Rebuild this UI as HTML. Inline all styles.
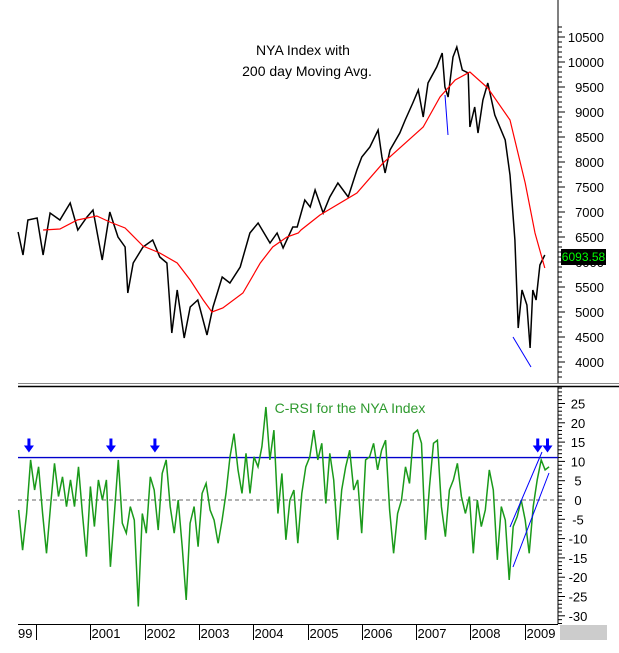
<!DOCTYPE html>
<html><head><meta charset="utf-8"><style>
html,body{margin:0;padding:0;background:#fff;}
svg{display:block;font-family:"Liberation Sans",Arial,sans-serif;}
</style></head><body>
<svg id="chart" width="619" height="653" viewBox="0 0 619 653" xmlns="http://www.w3.org/2000/svg">
<rect x="0" y="0" width="619" height="653" fill="#fff"/>
<g id="topPanel"></g>
<g id="botPanel"></g>
<text x="303" y="55" font-size="14" text-anchor="middle">NYA Index with</text>
<text x="307" y="76" font-size="14" text-anchor="middle">200 day Moving Avg.</text>
<text x="350" y="413" font-size="14" text-anchor="middle" fill="#2e9a2e">C-RSI for the NYA Index</text>
</svg>
<script>
const priceDates=[1999.67,1999.76,1999.85,2000.02,2000.13,2000.26,2000.44,2000.63,2000.77,2000.94,2001.05,2001.22,2001.36,2001.51,2001.64,2001.69,2001.79,2001.97,2002.15,2002.28,2002.41,2002.50,2002.60,2002.73,2002.84,2002.98,2003.15,2003.26,2003.43,2003.57,2003.76,2003.94,2004.09,2004.31,2004.44,2004.55,2004.73,2004.81,2004.95,2005.05,2005.14,2005.29,2005.41,2005.56,2005.75,2005.91,2006.00,2006.15,2006.30,2006.37,2006.43,2006.52,2006.70,2006.80,2006.94,2007.04,2007.13,2007.22,2007.38,2007.48,2007.53,2007.59,2007.68,2007.75,2007.85,2007.96,2007.99,2008.08,2008.14,2008.23,2008.32,2008.45,2008.64,2008.73,2008.82,2008.88,2008.95,2009.04,2009.10,2009.15,2009.21,2009.28,2009.37];
const priceValues=[6600,6140,6840,6880,6140,6980,6840,7180,6640,6900,7040,6040,7000,6500,6300,5380,5980,6300,6440,6100,5980,4580,5440,4480,5100,5240,4540,5100,5700,5580,5900,6580,6780,6380,6580,6280,6700,6700,7240,7100,7440,6980,7300,7580,7300,7840,8100,8300,8640,8100,7780,8240,8580,8840,9180,9440,8900,9580,9900,10180,9500,9300,10100,10300,9840,9780,8700,9100,8580,9240,9580,8940,8440,7740,6440,4680,5440,5140,4280,5440,5240,5940,6140];
const maDates=[2000.13,2000.44,2000.76,2001.12,2001.36,2001.64,2001.97,2002.28,2002.60,2002.84,2003.08,2003.24,2003.44,2003.81,2004.13,2004.36,2004.62,2004.83,2004.88,2005.23,2005.91,2006.39,2007.13,2007.44,2007.72,2007.99,2008.32,2008.73,2009.01,2009.19,2009.37];
const maValues=[6640,6660,6840,6920,6800,6680,6320,6180,5980,5640,5240,5000,5080,5380,5980,6300,6500,6580,6640,6940,7380,7980,8700,9300,9640,9800,9480,8840,7580,6580,5880];
const priceTicks=[4000,4500,5000,5500,6000,6500,7000,7500,8000,8500,9000,9500,10000,10500];
const rsiValues=[-2.6,-13,-3.5,10.4,2.6,8.6,-3.5,-13.8,-1.7,9.5,0.9,6,-1.7,5.2,-1.7,8.6,-3.5,-14.7,3.5,-6.9,5.2,0,5.2,-17.3,-3.5,10.4,-6,-8.6,-1.7,-5.2,-27.6,-3.5,-8.6,6,2.6,-7.8,6.9,10.4,-1.7,-8.6,0,-12.1,-25.9,-6,-1.7,-12.1,1.7,4.3,-2.6,-5.2,-11.2,-5.2,1.7,11.2,17.2,7.8,1.7,12.1,1.7,11.2,8.6,13.8,24.1,10.4,18.1,-3.5,6.9,-10.3,0,2.6,-11.2,1.7,8.6,11.2,18.1,10.4,14.7,-0.9,12.1,5.2,-10.3,2.6,8.6,12.9,2.6,5.2,-8.6,10.4,11.2,14.7,7.8,12.9,15.5,-2.6,-13.8,-3.5,0,8.6,4.3,17.2,18.1,14.7,-10.3,3.5,14.7,15.5,-1.7,-9.5,2.6,5.2,9.5,0.9,-3.5,0.9,-13.8,0,-6.9,-2.6,7.8,2.6,-15.5,-1.7,-5.2,-20.7,-6.9,-4.3,0,-5.2,-13.8,-1.7,5.2,10.4,7.8,8.6];
const rsiStart=1999.68, rsiEnd=2009.45;
const rsiTicks=[-30,-25,-20,-15,-10,-5,0,5,10,15,20,25];
const yearTicks=[2000,2001,2002,2003,2004,2005,2006,2007,2008,2009];
const yearLabels=["99","2001","2002","2003","2004","2005","2006","2007","2008","2009"];
const signalLevel=11;
const arrowDates=[1999.87,2001.38,2002.19,2009.24,2009.42];

const NS="http://www.w3.org/2000/svg";
const xS=t=>36+(t-2000)*54.3;
const yP=v=>37+(10500-v)*0.05;
const yR=v=>500-v*3.86;
function mk(tag,attrs,parent){const el=document.createElementNS(NS,tag);for(const k in attrs)el.setAttribute(k,attrs[k]);parent.appendChild(el);return el;}
const topG=document.getElementById('topPanel'), botG=document.getElementById('botPanel');

let e=mk('line',{x1:558,y1:0,x2:558,y2:383,stroke:'#000'},topG);


for(let v=3700;v<=10700;v+=100){const y=yP(v);mk('line',{x1:558,y1:y,x2:v%500===0?565:562,y2:y,stroke:'#000'},topG);}
priceTicks.forEach(v=>{const t=mk('text',{x:604,y:yP(v)+5,'font-size':13,'text-anchor':'end',fill:'#000'},topG);t.textContent=v;

});
mk('line',{x1:18,y1:383.5,x2:619,y2:383.5,stroke:'#888'},topG);
mk('line',{x1:18,y1:386.5,x2:619,y2:386.5,stroke:'#000',"stroke-width":1.5},topG);

let pts=priceDates.map((d,i)=>xS(d).toFixed(1)+','+yP(priceValues[i]).toFixed(1)).join(' ');
e=mk('polyline',{points:pts,fill:'none',stroke:'#000','stroke-width':1.5},topG);


pts=maDates.map((d,i)=>xS(d).toFixed(1)+','+yP(maValues[i]).toFixed(1)).join(' ');
e=mk('polyline',{points:pts,fill:'none',stroke:'#f00','stroke-width':1.2},topG);


mk('line',{x1:445,y1:95,x2:448,y2:135,stroke:'#00f'},topG);
mk('line',{x1:513,y1:337,x2:531,y2:367,stroke:'#00f'},topG);
e=mk('rect',{x:561,y:249,width:45,height:16,fill:'#000'},topG);


let tt=mk('text',{x:583.5,y:261,'font-size':12,'text-anchor':'middle',fill:'#0f0'},topG);tt.textContent='6093.58';

e=mk('line',{x1:558,y1:387,x2:558,y2:624,stroke:'#000'},botG);


for(let v=-32;v<=29;v++){const y=yR(v);mk('line',{x1:558,y1:y,x2:v%5===0?565:562,y2:y,stroke:'#000'},botG);}
rsiTicks.forEach(v=>{const t=mk('text',{x:578,y:yR(v)+5,'font-size':13,'text-anchor':'middle',fill:'#000'},botG);t.textContent=v;

});
mk('line',{x1:18,y1:yR(0),x2:558,y2:yR(0),stroke:'#666','stroke-dasharray':'4,3'},botG);
e=mk('line',{x1:18,y1:yR(signalLevel),x2:558,y2:yR(signalLevel),stroke:'#00c','stroke-width':1.3},botG);


const step=(rsiEnd-rsiStart)/(rsiValues.length-1);
pts=rsiValues.map((v,i)=>xS(rsiStart+i*step).toFixed(1)+','+yR(v).toFixed(1)).join(' ');
e=mk('polyline',{points:pts,fill:'none',stroke:'#1a9a1a','stroke-width':1.5},botG);


mk('line',{x1:510,y1:527,x2:542,y2:452,stroke:'#00f'},botG);
mk('line',{x1:513,y1:567,x2:549,y2:473,stroke:'#00f'},botG);
arrowDates.forEach(d=>{const x=xS(d),y=yR(signalLevel)-6;
const a=mk('path',{d:`M${x-1.5},${y-13}h3v7h3.5l-5,7l-5,-7h3.5z`,fill:'#00f'},botG);

});
mk('line',{x1:18,y1:624.5,x2:558,y2:624.5,stroke:'#000'},botG);
yearTicks.forEach((yr,i)=>{const x=Math.round(xS(yr))+0.5;
mk('line',{x1:x,y1:625,x2:x,y2:640,stroke:'#000'},botG);
const lx=i===0?18:x+1;
const t=mk('text',{x:lx,y:638,'font-size':13,fill:'#000'},botG);t.textContent=yearLabels[i];

});
e=mk('rect',{x:560,y:625,width:47,height:15,fill:'#ccc'},botG);


</script>
</body></html>
